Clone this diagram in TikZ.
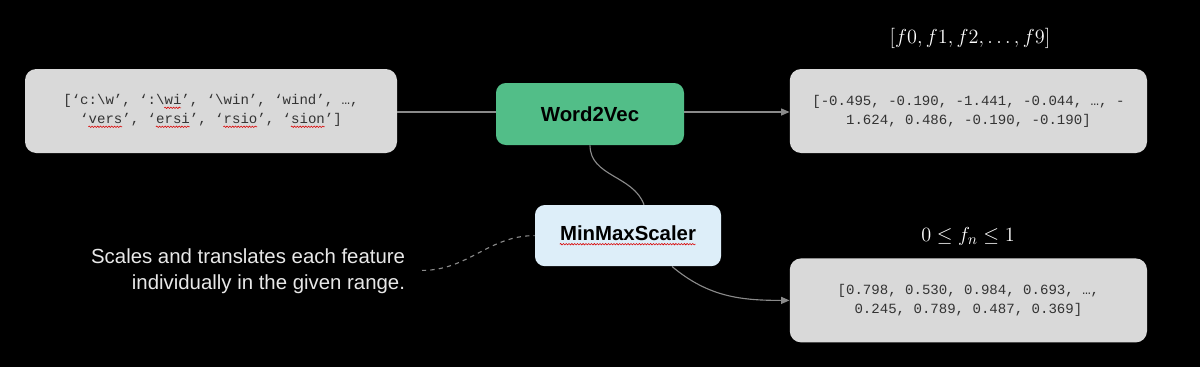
\documentclass[tikz,border=0pt]{standalone}
\usepackage{fontspec}
\setmainfont{Liberation Sans}
\setmonofont{Liberation Mono}
\usepackage{tikz}
\usetikzlibrary{arrows.meta,positioning,decorations.pathmorphing}
\usepackage{xcolor}
\definecolor{panel}{HTML}{D9D9D9}
\definecolor{panelink}{HTML}{333333}
\definecolor{embed}{HTML}{52BE88}
\definecolor{scaler}{HTML}{DDEEF9}
\definecolor{wire}{HTML}{8A8A8A}
\definecolor{note}{HTML}{E8E8E8}
\newsavebox\squigbox
\newcommand\squig[1]{\sbox\squigbox{#1}\usebox\squigbox\llap{\tikz[baseline=0pt,sharp corners]
  \draw[red!85!black,line width=0.4pt,sharp corners,decorate,
    decoration={snake,amplitude=0.5pt,segment length=2pt}]
  (0,-2.4pt) -- (\wd\squigbox,-2.4pt);}}

\begin{document}
\begin{tikzpicture}[
  databox/.style={draw=none,fill=panel,rounded corners=8pt,minimum width=9.3cm,
    minimum height=2.1cm,align=center,text=panelink,
    font=\ttfamily\fontsize{10}{13.5}\selectfont},
  stage/.style={rounded corners=7pt,minimum width=4.7cm,minimum height=1.55cm,
    font=\bfseries\fontsize{14.5}{17}\selectfont,text=black,fill=#1},
  wire/.style={draw=wire,line width=0.8pt},
  tip/.style={-{Triangle[length=6pt,width=5pt]}},
]
  \fill[black] (0,0) rectangle (30,-9.175);
  \useasboundingbox (0,0) rectangle (30,-9.175);

  \node[databox] (tokens) at (5.275,-2.775)
    {[‘c:\textbackslash w’, ‘:\textbackslash \squig{wi}’, ‘\textbackslash win’, ‘wind’, …,\\
     ‘\squig{vers}’, ‘\squig{ersi}’, ‘\squig{rsio}’, ‘\squig{sion}’]};
  \node[stage=embed] (w2v) at (14.75,-2.85) {Word2Vec};
  \node[stage=scaler,minimum width=4.65cm,minimum height=1.53cm] (mms) at (15.7,-5.89)
    {\squig{MinMaxScaler}};
  \node[databox,minimum width=8.93cm] (vec) at (24.21,-2.775)
    {[-0.495, -0.190, -1.441, -0.044, …, -\\
     1.624, 0.486, -0.190, -0.190]};
  \node[databox,minimum width=8.93cm] (scaled) at (24.21,-7.51)
    {[0.798, 0.530, 0.984, 0.693, …,\\
     0.245, 0.789, 0.487, 0.369]};

  % labels above the outputs
  \node[text=white,font=\fontsize{15}{18}\selectfont] (featnames) at (24.25,-0.95)
    {$[f0, f1, f2, \dots, f9]$};
  \node[text=white,font=\fontsize{15}{18}\selectfont] (range) at (24.2,-5.9)
    {$0 \leq f_n \leq 1$};

  \node[text=note,align=right,anchor=east,font=\fontsize{14.5}{18.4}\selectfont]
    (explain) at (10.25,-6.78)
    {Scales and translates each feature\\individually in the given range.};

  % connectors
  \draw[wire] (tokens.east |- 0,-2.8) -- (w2v.west |- 0,-2.8);
  \draw[wire,tip] (w2v.east |- 0,-2.8) -- (vec.west |- 0,-2.8);
  \draw[wire] (w2v.south) to[out=-90,in=110] ([xshift=0.4cm]mms.north);
  \draw[wire,tip] ([xshift=1.1cm]mms.south) to[out=-40,in=180] (scaled.west);
  \draw[wire,dashed] ([xshift=0.3cm,yshift=0.02cm]explain.east) to[out=0,in=180] (mms.west);
\end{tikzpicture}
\end{document}
